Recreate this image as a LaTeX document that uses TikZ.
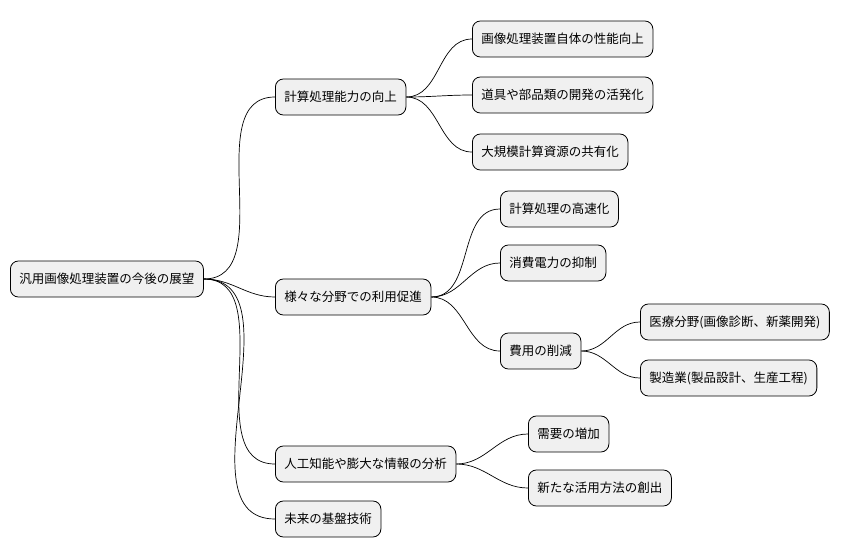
\documentclass[tikz,border=0pt]{standalone}
\usepackage{fontspec}
\setmainfont{Noto Sans CJK JP}
\begin{document}
\begin{tikzpicture}[x=1pt,y=-1pt,
  box/.style={draw=black,line width=0.8pt,fill=black!6,rounded corners=8pt,minimum height=36pt,inner xsep=9pt,anchor=west,font=\fontsize{12.5}{15}\selectfont},
  ln/.style={line width=0.7pt,black}]
\useasboundingbox (0,0) rectangle (863,555);
\node[box] (r) at (10,279) {汎用画像処理装置の今後の展望};
\node[box] (a) at (275,97) {計算処理能力の向上};
\node[box] (a1) at (472,39) {画像処理装置自体の性能向上};
\node[box] (a2) at (472,95) {道具や部品類の開発の活発化};
\node[box] (a3) at (472,152) {大規模計算資源の共有化};
\node[box] (b) at (275,297) {様々な分野での利用促進};
\node[box] (b1) at (500,209) {計算処理の高速化};
\node[box] (b2) at (500,263) {消費電力の抑制};
\node[box] (b3) at (500,351) {費用の削減};
\node[box] (c1) at (640,322) {医療分野(画像診断、新薬開発)};
\node[box] (c2) at (640,378) {製造業(製品設計、生産工程)};
\node[box] (d) at (275,464) {人工知能や膨大な情報の分析};
\node[box] (d1) at (528,434) {需要の増加};
\node[box] (d2) at (528,488) {新たな活用方法の創出};
\node[box] (e) at (275,519) {未来の基盤技術};
\foreach \p/\c in {r/a,r/b,r/d,r/e,a/a1,a/a2,a/a3,b/b1,b/b2,b/b3,b3/c1,b3/c2,d/d1,d/d2}
  \draw[ln] (\p.east) to[out=0,in=180] (\c.west);
\end{tikzpicture}
\end{document}
